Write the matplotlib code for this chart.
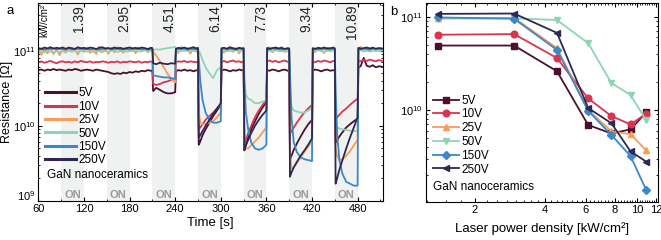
import numpy as np
import matplotlib
matplotlib.use('Agg')
import matplotlib.pyplot as plt
import matplotlib.transforms as mtransforms
from matplotlib.ticker import FixedLocator, NullFormatter, MultipleLocator, LogLocator

plt.rcParams['font.family'] = ['Liberation Sans', 'DejaVu Sans']

# ---- panel a: resistance vs time (values in units of 1e10 Ohm) ----
time_s = [60, 64, 68, 72, 76, 80, 84, 88,
          92, 96, 100, 104, 108, 112, 116, 120,
          124, 128, 132, 136, 140, 144, 148,
          152, 156, 160, 164, 168, 172, 176, 180,
          184, 188, 192, 196, 200, 204, 208,
          210, 211, 215, 220, 225, 230, 235, 240,
          241, 244, 248, 252, 256, 260, 264, 268, 270,
          271, 273, 276, 280, 285, 290, 295, 300,
          301, 304, 308, 312, 316, 320, 324, 328, 330,
          331, 333, 336, 340, 345, 350, 355, 360,
          361, 364, 368, 372, 376, 380, 384, 388, 390,
          391, 393, 396, 400, 405, 410, 415, 420,
          421, 424, 428, 432, 436, 440, 444, 448, 450,
          451, 453, 456, 460, 465, 470, 475, 480,
          481, 484, 488, 492, 496, 500, 504, 508, 512]

res_5v = [5.5, 5.6, 5.4, 5.6, 5.5, 5.7, 5.5, 5.6,
          5.5, 5.4, 5.6, 5.5, 5.7, 5.6, 5.4, 5.5,
          5.6, 5.5, 5.4, 5.6, 5.5, 5.4, 5.3,
          5.2, 5.0, 4.9, 5.0, 4.9, 5.1, 5.0, 5.2,
          5.1, 5.3, 5.2, 5.4, 5.3, 5.5, 5.4,
          5.4, 2.9, 3.2, 3.0, 2.8, 2.7, 2.7, 2.8,
          5.3, 5.5, 5.4, 5.6, 5.4, 5.5, 5.3, 5.5, 5.4,
          0.56, 0.62, 0.75, 0.9, 1.1, 1.35, 1.6, 1.9,
          5.4, 5.6, 5.5, 5.3, 5.5, 5.4, 5.6, 5.5, 5.4,
          0.47, 0.55, 0.7, 0.9, 1.15, 1.45, 1.75, 2.1,
          5.5, 5.4, 5.6, 5.5, 5.3, 5.5, 5.6, 5.4, 5.5,
          0.35, 0.40, 0.48, 0.58, 0.72, 0.88, 1.05, 1.2,
          5.4, 5.6, 5.5, 5.3, 5.5, 5.6, 5.4, 5.5, 5.4,
          0.6, 0.65, 0.72, 0.82, 0.95, 1.05, 1.15, 1.25,
          6.0, 6.2, 8.0, 6.3, 6.1, 6.4, 6.0, 6.2, 6.1]

res_10v = [7.0, 7.2, 6.9, 7.1, 7.3, 7.0, 6.8, 7.1,
           7.2, 7.0, 7.1, 6.9, 7.2, 7.0, 7.3, 7.1,
           7.0, 7.2, 6.9, 7.1, 7.0, 7.2, 7.1,
           6.9, 7.1, 7.0, 7.2, 6.9, 7.1, 7.0, 7.2,
           7.1, 7.0, 7.2, 6.9, 7.1, 7.0, 7.2,
           7.1, 3.6, 3.5, 3.6, 3.8, 3.9, 4.1, 4.3,
           7.0, 7.2, 7.1, 7.3, 7.0, 7.2, 7.1, 7.0, 7.2,
           0.9, 0.95, 1.05, 1.2, 1.35, 1.5, 1.7, 1.9,
           7.1, 7.3, 7.0, 7.2, 7.4, 7.1, 7.2, 7.0, 7.3,
           0.57, 0.65, 0.8, 1.0, 1.3, 1.6, 1.9, 2.2,
           7.2, 7.4, 7.1, 7.3, 7.0, 7.2, 7.4, 7.1, 7.2,
           0.78, 0.85, 0.95, 1.1, 1.3, 1.5, 1.7, 1.9,
           7.2, 7.0, 7.3, 7.1, 7.4, 7.2, 7.0, 7.3, 7.2,
           1.2, 1.3, 1.4, 1.55, 1.7, 1.9, 2.1, 2.3,
           7.4, 7.2, 7.5, 7.3, 7.6, 7.4, 7.2, 7.5, 7.3]

res_25v = [10.2, 8.8, 10.5, 9.2, 11.0, 9.0, 10.4, 8.7,
           10.8, 9.4, 11.2, 9.8, 10.3, 8.9, 10.9, 9.6,
           11.0, 9.3, 10.6, 9.0, 11.3, 9.7, 10.5,
           9.1, 10.9, 9.5, 11.2, 10.0, 9.4, 10.8, 9.9,
           10.6, 9.2, 11.1, 9.8, 10.4, 9.5, 10.8,
           10.2, 9.6, 8.6, 7.2, 6.0, 4.9, 4.2, 3.8,
           10.5, 9.3, 11.2, 9.9, 10.7, 9.1, 11.0, 9.6, 10.4,
           1.6, 1.1, 1.05, 1.05, 1.1, 1.15, 1.3, 1.5,
           10.9, 9.4, 10.6, 11.3, 9.7, 10.8, 9.2, 10.5, 10.1,
           0.6, 0.5, 0.5, 0.55, 0.62, 0.70, 0.82, 0.95,
           10.4, 11.1, 9.5, 10.7, 9.9, 11.2, 9.6, 10.5, 10.0,
           0.45, 0.27, 0.28, 0.32, 0.38, 0.45, 0.53, 0.63,
           10.7, 9.5, 11.0, 10.2, 9.3, 10.9, 9.8, 11.2, 10.3,
           0.5, 0.4, 0.35, 0.36, 0.40, 0.46, 0.55, 0.65,
           10.6, 11.3, 9.7, 10.9, 10.2, 11.1, 9.8, 10.6, 10.3]

res_50v = [9.6, 9.9, 9.4, 10.0, 9.7, 9.5, 9.9, 9.6,
           9.8, 9.5, 10.0, 9.7, 9.9, 9.6, 9.8, 10.1,
           9.7, 9.9, 9.6, 10.0, 9.8, 9.5, 9.9,
           9.7, 10.0, 9.8, 9.6, 9.9, 10.1, 9.7, 9.9,
           9.8, 10.0, 9.7, 9.9, 10.1, 9.8, 10.0,
           10.0, 10.2, 10.4, 10.3, 10.6, 10.8, 11.0, 11.2,
           10.2, 10.0, 9.8, 10.1, 9.9, 10.2, 9.8, 10.0, 9.9,
           9.8, 9.2, 7.5, 6.0, 5.0, 4.3, 5.5, 6.0,
           9.9, 10.1, 9.8, 10.0, 9.7, 10.2, 9.9, 10.0, 9.8,
           4.0, 2.6, 2.3, 2.2, 2.0, 2.0, 2.1, 2.2,
           9.8, 10.0, 9.7, 10.1, 9.9, 9.8, 10.0, 9.7, 9.9,
           3.0, 1.8, 1.6, 1.55, 1.5, 1.5, 1.6, 1.7,
           10.0, 9.8, 10.1, 9.9, 9.7, 10.0, 9.8, 10.1, 9.9,
           1.2, 0.95, 0.92, 0.90, 0.88, 0.86, 0.85, 0.85,
           9.9, 10.1, 9.8, 10.0, 9.7, 9.9, 10.2, 9.8, 10.0]

res_150v = [10.4, 10.7, 10.3, 10.6, 10.5, 10.8, 10.4, 10.6,
            10.5, 10.3, 10.7, 10.4, 10.6, 10.5, 10.8, 10.4,
            10.6, 10.4, 10.7, 10.5, 10.3, 10.6, 10.5,
            10.7, 10.4, 10.5, 10.6, 10.3, 10.7, 10.5, 10.4,
            10.6, 10.5, 10.7, 10.4, 10.6, 10.3, 10.5,
            10.5, 4.7, 4.6, 4.5, 4.4, 4.4, 4.3, 4.2,
            10.4, 10.6, 10.5, 10.7, 10.3, 10.6, 10.5, 10.4, 10.6,
            8.0, 4.0, 2.2, 1.5, 1.2, 1.1, 1.1, 1.15,
            10.5, 10.7, 10.4, 10.6, 10.5, 10.3, 10.6, 10.5, 10.7,
            4.0, 1.5, 0.9, 0.6, 0.50, 0.48, 0.50, 0.56,
            10.6, 10.4, 10.7, 10.5, 10.6, 10.3, 10.6, 10.5, 10.4,
            5.0, 1.3, 0.60, 0.45, 0.38, 0.36, 0.35, 0.34,
            10.5, 10.7, 10.4, 10.6, 10.5, 10.8, 10.4, 10.6, 10.5,
            3.0, 0.8, 0.35, 0.23, 0.18, 0.17, 0.16, 0.16,
            10.6, 10.4, 10.7, 10.5, 10.3, 10.6, 10.5, 10.7, 10.4]

res_250v = [10.8, 10.5, 11.0, 10.7, 11.1, 10.6, 10.9, 10.7,
            11.0, 10.6, 10.9, 10.8, 10.5, 11.1, 10.7, 10.9,
            10.6, 11.0, 10.8, 10.5, 10.9, 11.1, 10.7,
            10.8, 10.6, 11.0, 10.7, 10.9, 10.5, 10.8, 11.0,
            10.7, 10.9, 10.6, 11.0, 10.8, 10.5, 10.9,
            10.8, 6.8, 6.6, 6.9, 6.7, 6.6, 6.8, 6.7,
            10.6, 10.9, 10.7, 11.0, 10.6, 10.8, 11.1, 10.7, 10.9,
            0.70, 0.75, 0.85, 1.0, 1.2, 1.45, 1.7, 2.0,
            10.7, 10.9, 10.6, 11.0, 10.8, 10.5, 10.9, 10.7, 10.8,
            0.48, 0.55, 0.65, 0.8, 1.0, 1.2, 1.4, 1.6,
            10.9, 10.6, 10.8, 11.0, 10.7, 10.9, 10.5, 10.8, 10.7,
            0.21, 0.24, 0.28, 0.33, 0.40, 0.47, 0.56, 0.68,
            10.8, 10.5, 10.9, 10.7, 11.0, 10.6, 10.8, 10.9, 10.7,
            0.17, 0.20, 0.26, 0.35, 0.50, 0.70, 0.95, 1.3,
            10.9, 10.6, 10.8, 11.0, 10.7, 10.9, 10.6, 10.8, 10.7]

on_start = [90, 150, 210, 270, 330, 390, 450]
on_length = 30
density_labels = ['1.39', '2.95', '4.51', '6.14', '7.73', '9.34', '10.89']

# ---- panel b: resistance vs laser power density ----
density = [1.39, 2.95, 4.51, 6.14, 7.73, 9.34, 10.89]
r_5v = [4.9e10, 4.9e10, 2.6e10, 6.9e9, 5.6e9, 6.2e9, 9.4e9]
r_10v = [6.4e10, 6.5e10, 3.6e10, 1.33e10, 8.6e9, 7.0e9, 9.1e9]
r_25v = [9.7e10, 9.7e10, 4.6e10, 1.0e10, 5.9e9, 5.5e9, 3.7e9]
r_50v = [9.5e10, 9.6e10, 9.2e10, 5.2e10, 1.94e10, 1.45e10, 7.8e9]
r_150v = [9.8e10, 9.5e10, 4.4e10, 9.8e9, 5.4e9, 3.2e9, 1.4e9]
r_250v = [1.07e11, 1.08e11, 6.7e10, 1.05e10, 7.2e9, 3.6e9, 2.8e9]

labels = ['5V', '10V', '25V', '50V', '150V', '250V']
colors = ['#4b1030', '#d93450', '#f89c58', '#8ed5b4', '#3b87c8', '#2c2a55']
markers = ['s', 'o', '^', 'v', 'D', '<']


def style_axis(ax):
    ax.tick_params(which='both', direction='in', top=True, right=True,
                   labelsize=8, pad=2)
    ax.tick_params(which='major', length=3)
    ax.tick_params(which='minor', length=1.5)
    for s in ax.spines.values():
        s.set_linewidth(0.8)


fig = plt.figure(figsize=(6.61, 2.40), dpi=100)

# panel a
ax1 = fig.add_axes([0.058, 0.1625, 0.521, 0.825])
series = [res_5v, res_10v, res_25v, res_50v, res_150v, res_250v]
t = np.array(time_s)
for s in on_start:
    ax1.axvspan(s, s + on_length, color='#f0f2f1', lw=0, zorder=0)
for vals, lab, c in zip(series, labels, colors):
    ax1.plot(t, np.array(vals) * 1e10, color=c, lw=1.3, label=lab)
ax1.set_yscale('log')
ax1.set_xlim(60, 513)
ax1.set_ylim(1e9, 4.3e11)
ax1.yaxis.set_major_locator(FixedLocator([1e9, 1e10, 1e11]))
ax1.set_xticks(range(60, 481, 60))
ax1.xaxis.set_minor_locator(MultipleLocator(30))
ax1.set_xlabel('Time [s]', fontsize=9.5, labelpad=2)
ax1.set_ylabel('Resistance [Ω]', fontsize=9, labelpad=0)
style_axis(ax1)

# lift the 10^9 label a little so it clears the "60" below it
fig.canvas.draw()
lift = mtransforms.ScaledTranslation(0, 4 / 72, fig.dpi_scale_trans)
bottom_tick = ax1.yaxis.get_major_ticks()[0]
bottom_tick.label1.set_transform(bottom_tick.label1.get_transform() + lift)

for s, lab in zip(on_start, density_labels):
    ax1.text(s + on_length - 7, 0.99, lab, transform=ax1.get_xaxis_transform(),
             rotation=90, ha='center', va='top', fontsize=10, color='#222222')
    ax1.text(s + on_length / 2, 0.005, 'ON', transform=ax1.get_xaxis_transform(),
             ha='center', va='bottom', fontsize=8, color='#9a9a9a',
             fontweight='bold')
ax1.text(68, 0.995, 'kW/cm²', transform=ax1.get_xaxis_transform(),
         rotation=90, ha='center', va='top', fontsize=7)

leg1 = ax1.legend(loc='upper left', bbox_to_anchor=(0.0, 0.61), frameon=False,
                  fontsize=8.5, handlelength=2.6, handletextpad=0.2,
                  labelspacing=0.12, borderaxespad=0.2)
for ln in leg1.get_lines():
    ln.set_linewidth(2.2)
ax1.text(0.025, 0.13, 'GaN nanoceramics', transform=ax1.transAxes,
         fontsize=8.5, va='center')

# panel b
ax2 = fig.add_axes([0.644, 0.158, 0.352, 0.8295])
for vals, lab, c, m in zip([r_5v, r_10v, r_25v, r_50v, r_150v, r_250v],
                           labels, colors, markers):
    ms = 4 if m == 'D' else 4.8
    ax2.plot(density, vals, color=c, marker=m, ms=ms, lw=1.3, label=lab)
ax2.set_xscale('log')
ax2.set_yscale('log')
ax2.set_xlim(1.23, 12.3)
ax2.set_ylim(1.03e9, 1.4e11)
ax2.xaxis.set_major_locator(FixedLocator([2, 4, 6, 8, 10, 12]))
ax2.set_xticklabels(['2', '4', '6', '8', '10', '12'])
ax2.xaxis.set_minor_locator(FixedLocator(np.arange(1.25, 12.3, 0.25)))
ax2.xaxis.set_minor_formatter(NullFormatter())
ax2.yaxis.set_major_locator(LogLocator(base=10, numticks=5))
ax2.set_xlabel('Laser power density [kW/cm²]', fontsize=9.5, labelpad=5)
style_axis(ax2)

ax2.legend(loc='upper left', bbox_to_anchor=(0.0, 0.575), frameon=False,
           fontsize=8.5, handlelength=2.2, handletextpad=0.2,
           labelspacing=0.15, borderaxespad=0.2)
ax2.text(0.03, 0.075, 'GaN nanoceramics', transform=ax2.transAxes,
         fontsize=8.5, va='center')

fig.text(0.010, 0.955, 'a', fontsize=9.5, va='center')
fig.text(0.590, 0.950, 'b', fontsize=9.5, va='center')

fig.savefig('out.png', dpi=100)
